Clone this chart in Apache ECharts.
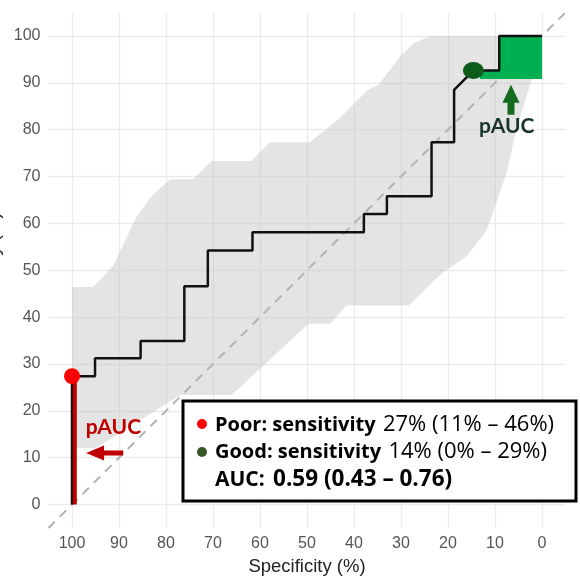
<!DOCTYPE html>
<html>
<head>
<meta charset="utf-8">
<script src="https://cdn.jsdelivr.net/npm/echarts@6/dist/echarts.min.js"></script>
<style>
html,body{margin:0;padding:0;background:#fff;}
#main{width:580px;height:581px;}
</style>
</head>
<body>
<div id="main"></div>
<script>
// ---- data ----
const tickValues = [0, 10, 20, 30, 40, 50, 60, 70, 80, 90, 100];

// ROC curve (specificity %, sensitivity %)
const rocSpec = [100, 100, 95.1, 95.1, 85.4, 85.4, 76.1, 76.1, 71.1, 71.1, 61.6, 61.6, 37.9, 37.9, 33.0, 33.0, 23.5, 23.5, 18.7, 18.7, 14.6, 9.1, 9.1, 0];
const rocSens = [0, 27.4, 27.4, 31.2, 31.2, 34.9, 34.9, 46.6, 46.6, 54.2, 54.2, 58.1, 58.1, 62.0, 62.0, 65.8, 65.8, 77.3, 77.3, 88.5, 92.6, 92.6, 100, 100];

// confidence band
const upperSpec = [100, 95.5, 91.2, 86.2, 83.0, 79.1, 74.2, 70.3, 61.8, 57.9, 49.4, 43.0, 37.0, 34.8, 30.2, 27.4, 23.8, 0];
const upperSens = [46.4, 46.4, 51.0, 61.6, 65.9, 69.4, 69.4, 73.3, 73.3, 77.3, 77.3, 82.5, 88.5, 89.6, 95.6, 98.4, 100, 100];
const lowerSpec = [100, 95.0, 77.0, 66.0, 49.7, 45.1, 41.6, 28.4, 21.0, 16.0, 11.8, 7.5, 5.5, 2.2, 0];
const lowerSens = [12.0, 12.0, 23.4, 23.4, 38.6, 38.6, 42.5, 42.5, 49.6, 53.0, 58.5, 70.8, 80.0, 90.7, 100];

// chance diagonal
const diagSpec = [105, -5];
const diagSens = [-5, 105];

// green partial AUC region (high sensitivity)
const greenSpec = [13.2, 0, 0, 9.1, 9.1, 13.2];
const greenSens = [90.8, 90.8, 100, 100, 92.6, 92.6];

// red partial AUC segment (high specificity)
const redSpec = [99.4, 99.4];
const redSens = [0, 27.4];

// highlighted points
const poorPoint = [100, 27.4];
const goodPoint = [14.6, 92.6];

// annotation arrows [from, to]
const redArrow = [[89.1, 11.0], [97.0, 11.0]];
const greenArrow = [[6.6, 83.2], [6.6, 89.6]];
const redLabelPos = [91.2, 16.6];
const greenLabelPos = [7.5, 80.7];

// legend texts
const legendPoor = ['Poor: sensitivity', '27% (11% – 46%)'];
const legendGood = ['Good: sensitivity', '14% (0% – 29%)'];
const legendAuc = ['AUC:', '0.59 (0.43 – 0.76)'];

// ---- chart ----
const zip = (a, b) => a.map((v, i) => [v, b[i]]);
const chart = echarts.init(document.getElementById('main'), null, {renderer: 'canvas'});

function arrowPts(api, from, to, headLen, headW, shaftW) {
  const p0 = api.coord(from), p1 = api.coord(to);
  const dx = p1[0] - p0[0], dy = p1[1] - p0[1];
  const L = Math.hypot(dx, dy), ux = dx / L, uy = dy / L, nx = -uy, ny = ux;
  const bx = p1[0] - ux * headLen, by = p1[1] - uy * headLen;
  return [
    [p0[0] + nx * shaftW / 2, p0[1] + ny * shaftW / 2],
    [bx + nx * shaftW / 2, by + ny * shaftW / 2],
    [bx + nx * headW / 2, by + ny * headW / 2],
    p1,
    [bx - nx * headW / 2, by - ny * headW / 2],
    [bx - nx * shaftW / 2, by - ny * shaftW / 2],
    [p0[0] - nx * shaftW / 2, p0[1] - ny * shaftW / 2]
  ];
}

const axisCommon = {
  type: 'value', min: -5, max: 105,
  axisLine: {show: false},
  axisTick: {show: false, customValues: tickValues},
  axisLabel: {customValues: tickValues, color: '#555', fontSize: 16, fontFamily: 'Liberation Sans', margin: 8},
  splitLine: {show: true, lineStyle: {color: '#ebebeb', width: 1.3}}
};

const legendFont = 'Open Sans';
function richStyle(color, numWeight) {
  return {
    b: {fontSize: 20, fontWeight: 'bold', fontFamily: legendFont, color: color},
    n: {fontSize: 22, fontWeight: numWeight, fontFamily: legendFont, color: color, padding: [0, 0, 0, 4]}
  };
}

const option = {
  animation: false,
  backgroundColor: '#fff',
  grid: {left: 48.5, right: 14.5, top: 12.5, bottom: 50.5},
  xAxis: Object.assign({}, axisCommon, {
    inverse: true,
    name: 'Specificity (%)', nameLocation: 'middle', nameGap: 29,
    nameTextStyle: {color: '#222', fontSize: 18.5, fontFamily: 'Liberation Sans'}
  }),
  yAxis: Object.assign({}, axisCommon, {}),
  series: [
    {
      type: 'custom', silent: true, z: 1, data: [[0, 0]],
      renderItem: (params, api) => {
        const pts = zip(upperSpec, upperSens).map(p => api.coord(p))
          .concat(zip(lowerSpec, lowerSens).map(p => api.coord(p)).reverse());
        return {type: 'polygon', shape: {points: pts}, style: {fill: 'rgba(190,190,190,0.42)'}};
      }
    },
    {
      type: 'line', silent: true, z: 2, data: zip(diagSpec, diagSens), showSymbol: false,
      lineStyle: {color: '#b3b3b3', width: 2, type: [9, 7]}
    },
    {
      type: 'custom', silent: true, z: 3, data: [[0, 0]],
      renderItem: (params, api) => ({
        type: 'polygon', shape: {points: zip(greenSpec, greenSens).map(p => api.coord(p))},
        style: {fill: '#00b050'}
      })
    },
    {
      type: 'line', silent: true, z: 4, data: zip(rocSpec, rocSens), showSymbol: false,
      lineStyle: {color: '#111', width: 2.5}
    },
    {
      type: 'line', silent: true, z: 5, data: zip(redSpec, redSens), showSymbol: false,
      lineStyle: {color: '#c00000', width: 4}
    },
    {
      type: 'scatter', silent: true, z: 6, data: [poorPoint], symbolSize: 16,
      itemStyle: {color: '#ff0000', opacity: 1}
    },
    {
      type: 'scatter', silent: true, z: 6, data: [goodPoint], symbolSize: [21, 17],
      itemStyle: {color: '#0d5c1c', opacity: 1}
    },
    {
      type: 'custom', silent: true, z: 7, data: [[0, 0]],
      renderItem: (params, api) => {
        const rp = api.coord(redLabelPos), gp = api.coord(greenLabelPos);
        return {
          type: 'group',
          children: [
            {type: 'polygon', shape: {points: arrowPts(api, redArrow[0], redArrow[1], 18, 15, 5)}, style: {fill: '#c00000'}},
            {type: 'polygon', shape: {points: arrowPts(api, greenArrow[0], greenArrow[1], 18, 17, 7)}, style: {fill: '#136b1f'}},
            {type: 'text', x: rp[0], y: rp[1], style: {text: 'pAUC', fill: '#c00000', fontSize: 21, fontWeight: 'bold', fontFamily: 'Lato', align: 'center', verticalAlign: 'middle'}},
            {type: 'text', x: gp[0], y: gp[1], style: {text: 'pAUC', fill: '#17332b', fontSize: 21, fontWeight: 'bold', fontFamily: 'Lato', align: 'center', verticalAlign: 'middle'}}
          ]
        };
      }
    }
  ],
  graphic: [
    {
      type: 'text', x: 3, y: 271, rotation: Math.PI / 2, z: 50,
      style: {text: 'Sensitivity (%)', fill: '#222', fontSize: 18.5, fontFamily: 'Liberation Sans', align: 'center', verticalAlign: 'bottom'}
    },
    {
      type: 'rect', z: 100, shape: {x: 183, y: 401, width: 393, height: 100},
      style: {fill: '#fff', stroke: '#000', lineWidth: 3}
    },
    {type: 'circle', z: 101, shape: {cx: 202, cy: 424, r: 5}, style: {fill: '#ff0000'}},
    {type: 'circle', z: 101, shape: {cx: 202, cy: 452, r: 5}, style: {fill: '#375623'}},
    {
      type: 'text', z: 101, x: 215, y: 425,
      style: {
        text: '{b|' + legendPoor[0] + '} {n|' + legendPoor[1] + '}',
        verticalAlign: 'middle', align: 'left',
        rich: richStyle('#ff0000', 'normal')
      }
    },
    {
      type: 'text', z: 101, x: 215, y: 452,
      style: {
        text: '{b|' + legendGood[0] + '} {n|' + legendGood[1] + '}',
        verticalAlign: 'middle', align: 'left',
        rich: richStyle('#375623', 'normal')
      }
    },
    {
      type: 'text', z: 101, x: 215, y: 480,
      style: {
        text: '{b|' + legendAuc[0] + '} {n|' + legendAuc[1] + '}',
        verticalAlign: 'middle', align: 'left',
        rich: {
          b: {fontSize: 21, fontWeight: 'bold', fontFamily: legendFont, color: '#000'},
          n: {fontSize: 22.5, fontWeight: 'bold', fontFamily: legendFont, color: '#000', padding: [0, 0, 0, 5]}
        }
      }
    }
  ]
};
chart.setOption(option);
</script>
</body>
</html>
